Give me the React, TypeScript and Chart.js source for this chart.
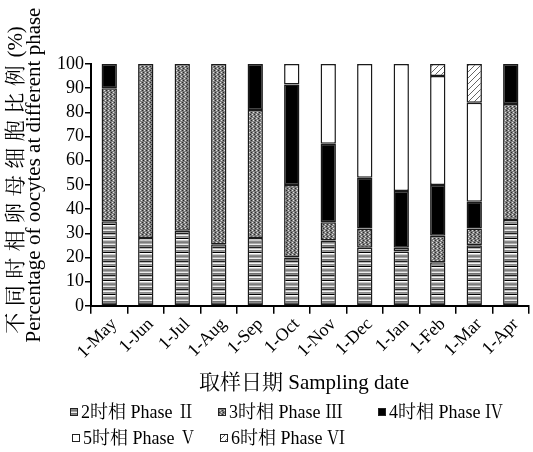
import { useEffect, useRef } from 'react';
import { Chart, registerables } from 'chart.js';
Chart.register(...registerables);

const categories = ['1-May', '1-Jun', '1-Jul', '1-Aug', '1-Sep', '1-Oct', '1-Nov', '1-Dec', '1-Jan', '1-Feb', '1-Mar', '1-Apr'];
const phaseII = [35, 28, 31, 25.5, 28, 20, 27, 24, 22.5, 18, 25, 35.5];
const phaseIII = [55, 72, 69, 74.5, 53, 30, 7.5, 8, 1.5, 11, 7, 48];
const phaseIV = [10, 0, 0, 0, 19, 41.5, 32.5, 21, 23.5, 21, 11, 16.5];
const phaseV = [0, 0, 0, 0, 0, 8.5, 33, 47, 52.5, 45, 41, 0];
const phaseVI = [0, 0, 0, 0, 0, 0, 0, 0, 0, 5, 16, 0];
const seriesLabels = ['2时相 Phase Ⅱ', '3时相 Phase Ⅲ', '4时相 Phase Ⅳ', '5时相 Phase Ⅴ', '6时相 Phase Ⅵ'];
const yTitleZh = '不同时相卵母细胞比例';
const yTitleUnit = ' (%)';
const yTitleEn = 'Percentage of oocytes at different phase';
const xTitle = '取样日期 Sampling date';

const SERIF = '"Liberation Serif", "Times New Roman", "Noto Serif CJK SC", "Noto Sans CJK SC", serif';

function makePattern(w: number, h: number, draw: (c: CanvasRenderingContext2D) => void): CanvasPattern | string {
  const cv = document.createElement('canvas');
  cv.width = w;
  cv.height = h;
  const c = cv.getContext('2d');
  if (!c) return '#888';
  draw(c);
  return c.createPattern(cv, 'repeat') || '#888';
}

function stripePattern() {
  const rows = ['#000000', '#ffffff', '#c8c8c8', '#8c8c8c', '#7c7c7c', '#a8a8a8', '#ececec', '#6e6e6e', '#8a8a8a', '#1e1e1e', '#b4b4b4', '#f4f4f4', '#888888', '#9a9a9a'];
  return makePattern(2, rows.length, (c) => {
    rows.forEach((col, i) => {
      c.fillStyle = col;
      c.fillRect(0, i, 2, 1);
    });
  });
}

function dotPattern() {
  const grid = ['gwgk', 'gggg', 'wgkg', 'gggg'];
  const map: Record<string, string> = { g: '#7e7e7e', w: '#e0e0e0', k: '#2a2a2a' };
  return makePattern(4, 4, (c) => {
    grid.forEach((row, y) => {
      row.split('').forEach((ch, x) => {
        c.fillStyle = map[ch];
        c.fillRect(x, y, 1, 1);
      });
    });
  });
}

function hatchPattern() {
  return makePattern(6, 6, (c) => {
    c.fillStyle = '#ffffff';
    c.fillRect(0, 0, 6, 6);
    c.strokeStyle = '#666';
    c.lineWidth = 1;
    c.beginPath();
    c.moveTo(0, 6);
    c.lineTo(6, 0);
    c.moveTo(-3, 3);
    c.lineTo(3, -3);
    c.moveTo(3, 9);
    c.lineTo(9, 3);
    c.stroke();
  });
}

const titlesPlugin = {
  id: 'titles',
  afterDraw(chart: any) {
    const ctx = chart.ctx as CanvasRenderingContext2D;
    const area = chart.chartArea;
    ctx.save();
    ctx.fillStyle = '#000';
    ctx.textBaseline = 'middle';
    // Chinese y title line (letter-spaced characters, then the unit)
    ctx.save();
    ctx.translate(16, area.top + 114);
    ctx.rotate(-Math.PI / 2);
    ctx.font = `21px ${SERIF}`;
    (ctx as any).letterSpacing = '6.5px';
    const wZh = ctx.measureText(yTitleZh).width;
    (ctx as any).letterSpacing = '0px';
    const wUnit = ctx.measureText(yTitleUnit).width;
    const start = -(wZh + wUnit) / 2;
    ctx.textAlign = 'left';
    (ctx as any).letterSpacing = '6.5px';
    ctx.fillText(yTitleZh, start, 0);
    (ctx as any).letterSpacing = '0px';
    ctx.fillText(yTitleUnit, start + wZh - 4, 0);
    ctx.restore();
    // English y title line
    ctx.save();
    ctx.translate(34, area.top + 111);
    ctx.rotate(-Math.PI / 2);
    ctx.textAlign = 'center';
    ctx.font = `21px ${SERIF}`;
    ctx.fillText(yTitleEn, 0, 0);
    ctx.restore();
    // x title
    ctx.textAlign = 'center';
    ctx.font = `21px ${SERIF}`;
    ctx.fillText(xTitle, (area.left + area.right) / 2 - 6, area.bottom + 78);
    ctx.restore();
  },
};

const legendPlugin = {
  id: 'phaseLegend',
  afterDraw(chart: any) {
    const ctx = chart.ctx as CanvasRenderingContext2D;
    const cols = [70, 218, 378];
    const rows = [412, 438];
    chart.data.datasets.forEach((ds: any, i: number) => {
      const x = cols[i % 3] + (i >= 3 ? 2 : 0);
      const y = rows[Math.floor(i / 3)];
      ctx.save();
      ctx.fillStyle = ds.backgroundColor;
      ctx.fillRect(x, y - 4, 8, 8);
      ctx.strokeStyle = '#222';
      ctx.lineWidth = 1;
      ctx.strokeRect(x + 0.5, y - 3.5, 7, 7);
      ctx.fillStyle = '#000';
      ctx.font = `18px ${SERIF}`;
      ctx.textBaseline = 'middle';
      ctx.fillText(ds.label, x + 11, y + 1);
      ctx.restore();
    });
  },
};

export default function App() {
  const ref = useRef<HTMLCanvasElement | null>(null);
  useEffect(() => {
    document.body.style.margin = '0';
    if (!ref.current) return;
    const fills = [stripePattern(), dotPattern(), '#000000', '#ffffff', hatchPattern()];
    const series = [phaseII, phaseIII, phaseIV, phaseV, phaseVI];
    const chart = new Chart(ref.current, {
      type: 'bar',
      data: {
        labels: categories,
        datasets: series.map((d, i) => ({
          label: seriesLabels[i],
          data: d,
          backgroundColor: fills[i] as any,
          borderColor: '#1a1a1a',
          borderWidth: 1.5,
          borderSkipped: false,
          barPercentage: 0.42,
          categoryPercentage: 1,
        })),
      },
      options: {
        animation: false,
        responsive: true,
        maintainAspectRatio: false,
        layout: { padding: { top: 64, left: 56, right: 4, bottom: 89 } },
        plugins: {
          legend: { display: false },
          tooltip: { enabled: false },
        },
        scales: {
          x: {
            stacked: true,
            grid: {
              offset: true,
              drawOnChartArea: false,
              drawTicks: true,
              tickLength: 8,
              color: '#000',
              lineWidth: 1.5,
            },
            border: { display: true, color: '#000', width: 2 },
            ticks: {
              color: '#000',
              font: { family: SERIF, size: 18 },
              maxRotation: 45,
              minRotation: 45,
              padding: 0,
              labelOffset: 5,
              autoSkip: false,
            },
          },
          y: {
            stacked: true,
            min: 0,
            max: 100,
            grid: {
              drawOnChartArea: false,
              drawTicks: true,
              tickLength: 6,
              color: '#000',
              lineWidth: 1.5,
            },
            border: { display: true, color: '#000', width: 2 },
            ticks: {
              stepSize: 10,
              autoSkip: false,
              color: '#000',
              font: { family: SERIF, size: 18 },
              padding: 1,
            },
          },
        },
      },
      plugins: [titlesPlugin, legendPlugin],
    });
    return () => chart.destroy();
  }, []);
  return (
    <div style={{ width: 533, height: 452, position: 'relative' }}>
      <canvas ref={ref} />
    </div>
  );
}
